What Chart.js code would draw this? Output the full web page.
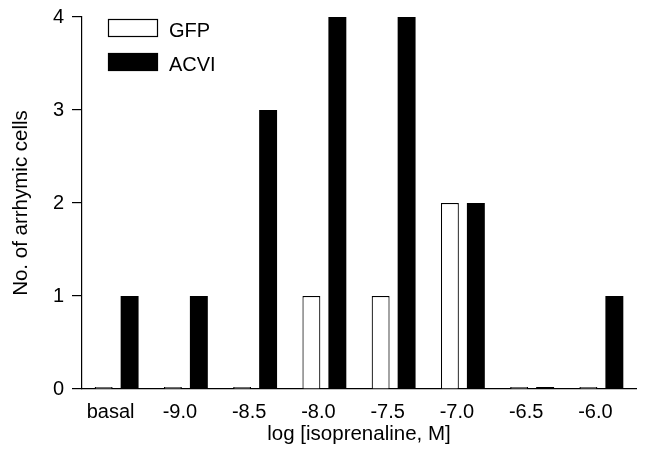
<!DOCTYPE html>
<html>
<head>
<meta charset="utf-8">
<script src="https://cdn.jsdelivr.net/npm/chart.js@4/dist/chart.umd.min.js"></script>
<style>
  html, body { margin: 0; padding: 0; background: #fff; }
  #wrap { width: 649px; height: 451px; }
</style>
</head>
<body>
<div id="wrap"><canvas id="c" width="649" height="451"></canvas></div>
<script>
// --- DATA ---
const categories = ['basal', '-9.0', '-8.5', '-8.0', '-7.5', '-7.0', '-6.5', '-6.0'];
const gfpValues = [0, 0, 0, 1, 1, 2, 0, 0];
const acviValues = [1, 1, 3, 4, 4, 2, 0, 1];
const yTicks = [0, 1, 2, 3, 4];

const FONT = '"Liberation Sans", Arial, Helvetica, sans-serif';
Chart.defaults.font.family = FONT;
Chart.defaults.color = '#000';

// legend drawn inside the plot, top-left
const boxLegend = {
    id: 'boxLegend',
    afterDraw(chart) {
        const c = chart.ctx;
        const a = chart.chartArea;
        const x = a.left + 26;
        let y = a.top + 2;
        c.save();
        chart.data.datasets.forEach(ds => {
            c.fillStyle = ds.backgroundColor;
            c.fillRect(x, y, 50, 18);
            c.lineWidth = 1.2;
            c.strokeStyle = '#000';
            c.strokeRect(x + 0.5, y + 0.5, 49, 17);
            c.fillStyle = '#000';
            c.font = '20px ' + FONT;
            c.textBaseline = 'middle';
            c.fillText(ds.label, x + 61, y + 12);
            y += 34;
        });
        c.restore();
    }
};

new Chart(document.getElementById('c'), {
    type: 'bar',
    data: {
        labels: categories,
        datasets: [
            {
                label: 'GFP',
                data: gfpValues,
                backgroundColor: '#fff',
                borderColor: '#000',
                borderWidth: 1.2,
                borderSkipped: 'bottom',
                minBarLength: 2
            },
            {
                label: 'ACVI',
                data: acviValues,
                backgroundColor: '#000',
                borderColor: '#000',
                borderWidth: 0,
                minBarLength: 2
            }
        ]
    },
    options: {
        responsive: false,
        animation: false,
        devicePixelRatio: 1,
        categoryPercentage: 0.75,
        barPercentage: 0.69,
        layout: { padding: { top: 17, right: 13, left: 0, bottom: 0 } },
        plugins: {
            legend: { display: false },
            tooltip: { enabled: false }
        },
        scales: {
            x: {
                grid: { display: false },
                border: { display: true, color: '#000', width: 1.2 },
                ticks: { font: { size: 20 }, padding: 3, labelOffset: -6, maxRotation: 0 },
                title: { display: true, text: 'log [isoprenaline, M]', font: { size: 20.5 }, padding: { top: 5 } },
                afterFit(s) { s.height = 62; s.paddingLeft = 0; s.paddingRight = 0; }
            },
            y: {
                min: 0,
                max: 4,
                afterBuildTicks(s) { s.ticks = yTicks.map(v => ({ value: v })); },
                grid: { drawOnChartArea: false, tickLength: 10, color: '#000', lineWidth: 1.2 },
                border: { display: true, color: '#000', width: 1.2 },
                ticks: { font: { size: 20 }, padding: 8 },
                title: { display: true, text: 'No. of arrhymic cells', font: { size: 20.5 }, padding: { top: 9, bottom: 4 } },
                afterFit(s) { s.width = 82; s.paddingTop = 0; s.paddingBottom = 0; }
            }
        }
    },
    plugins: [boxLegend]
});
</script>
</body>
</html>
